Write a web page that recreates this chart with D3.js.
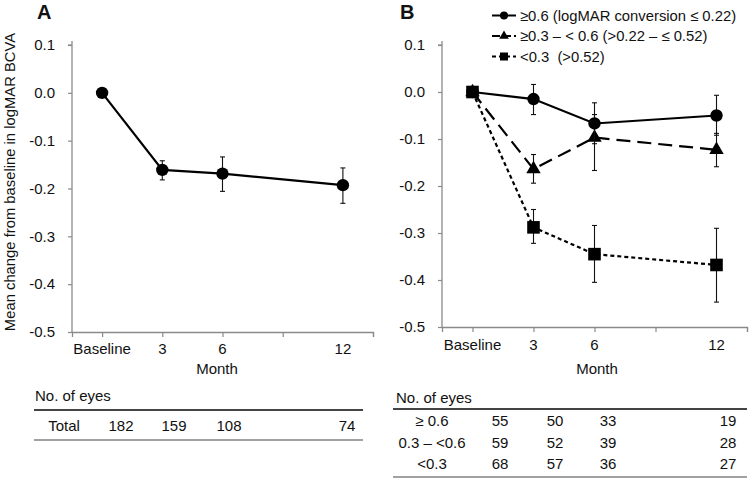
<!DOCTYPE html>
<html><head><meta charset="utf-8">
<script src="https://cdn.jsdelivr.net/npm/d3@7"></script>
<style>
body{margin:0;background:#fff;}
svg text{font-family:"Liberation Sans",Arial,sans-serif;fill:#111;white-space:pre;}
</style></head>
<body><svg id="c" width="750" height="481"></svg>
<script>
// ---- data ----
const months = [0, 3, 6, 12];
const monthLabels = ["Baseline", "3", "6", "12"];
const yTicks = [0.1, 0.0, -0.1, -0.2, -0.3, -0.4, -0.5];

// Panel A
const totalMean = [0, -0.161, -0.169, -0.193];
const totalLo   = [0, -0.182, -0.206, -0.231];
const totalHi   = [0, -0.142, -0.134, -0.157];

// Panel B
const seriesNames = ["≥0.6 (logMAR conversion ≤ 0.22)", "≥0.3 – < 0.6 (>0.22 – ≤ 0.52)", "<0.3  (>0.52)"];
const hiMean = [0, -0.015, -0.067, -0.050];
const hiLo   = [0, -0.048, -0.110, -0.092];
const hiHi   = [0,  0.016, -0.023, -0.007];
const midMean = [0, -0.164, -0.097, -0.123];
const midLo   = [0, -0.194, -0.167, -0.159];
const midHi   = [0, -0.133, -0.048, -0.088];
const lowMean = [0, -0.288, -0.345, -0.368];
const lowLo   = [0, -0.322, -0.405, -0.447];
const lowHi   = [0, -0.250, -0.284, -0.290];

// Tables
const totalEyes = [182, 159, 108, 74];
const groupLabels = ["≥ 0.6", "0.3 – <0.6", "<0.3"];
const eyesHi  = [55, 50, 33, 19];
const eyesMid = [59, 52, 39, 28];
const eyesLow = [68, 57, 36, 27];

const svg = d3.select("#c");
const AX = "#8a8a8a";

function panel(o){
  const g = svg.append("g");
  const x = d3.scaleLinear().domain([-1.5, 13.5]).range([o.x0, o.x1]);
  const y = d3.scaleLinear().domain([0.1, -0.5]).range([o.y0, o.y1]);
  // y axis
  const ya = g.append("g").attr("transform", `translate(${o.x0},0)`)
    .call(d3.axisLeft(y).tickValues(yTicks).tickFormat(d3.format(".1f")).tickSize(4).tickPadding(13));
  ya.select(".domain").remove();
  ya.selectAll(".tick line").attr("stroke", AX).attr("stroke-width", 1.2);
  ya.selectAll(".tick text").attr("font-size", 15).style("fill","#111")
    .text(d => d === 0 ? "0.0" : d3.format(".1f")(d).replace("−","-"));
  g.append("line").attr("x1", o.x0).attr("x2", o.x0).attr("y1", o.y0 - 4).attr("y2", o.y1)
    .attr("stroke", AX).attr("stroke-width", 1.3);
  g.append("line").attr("x1", o.x0 - 4).attr("x2", o.x0).attr("y1", o.y0).attr("y2", o.y0)
    .attr("stroke", AX).attr("stroke-width", 1.2);
  // x axis
  const xa = g.append("g").attr("transform", `translate(0,${o.y1})`)
    .call(d3.axisBottom(x).tickValues([0, 3, 6, 9, 13.5]).tickSize(5).tickFormat(""));
  xa.select(".domain").attr("stroke", AX).attr("stroke-width", 1.3);
  xa.selectAll(".tick line").attr("stroke", AX).attr("stroke-width", 1.2);
  g.selectAll(".mlab").data(months).join("text")
    .attr("x", d => x(d)).attr("y", o.y1 + o.labDy).attr("text-anchor", "middle")
    .attr("font-size", 15).text((d, i) => monthLabels[i]);
  g.append("text").attr("x", o.monthX).attr("y", o.monthY).attr("text-anchor", "middle")
    .attr("font-size", 15).text("Month");
  g.append("text").attr("x", o.letterX).attr("y", 19).attr("font-size", 20)
    .attr("font-weight", "bold").text(o.letter);
  return {g, x, y};
}

function series(p, mean, lo, hi, dash, marker){
  const {g, x, y} = p;
  // error bars
  months.forEach((m, i) => {
    if (lo[i] === hi[i]) return;
    g.append("line").attr("x1", x(m)).attr("x2", x(m)).attr("y1", y(hi[i])).attr("y2", y(lo[i]))
      .attr("stroke", "#111").attr("stroke-width", 1.1);
    [hi[i], lo[i]].forEach(v => g.append("line").attr("x1", x(m) - 2.5).attr("x2", x(m) + 2.5)
      .attr("y1", y(v)).attr("y2", y(v)).attr("stroke", "#111").attr("stroke-width", 1.1));
  });
  const line = d3.line().x((d, i) => x(months[i])).y(d => y(d));
  g.append("path").attr("d", line(mean)).attr("fill", "none").attr("stroke", "#000")
    .attr("stroke-width", 2.2).attr("stroke-dasharray", dash);
  drawMarkers(g, months.map((m, i) => [x(m), y(mean[i])]), marker);
}

function drawMarkers(g, pts, marker){
  pts.forEach(([px, py]) => {
    if (marker === "circle") g.append("circle").attr("cx", px).attr("cy", py).attr("r", 6.2).attr("fill", "#000");
    else if (marker === "square") g.append("rect").attr("x", px - 6.3).attr("y", py - 6.3).attr("width", 12.6).attr("height", 12.6).attr("fill", "#000");
    else g.append("path").attr("transform", `translate(${px},${py})`)
      .attr("d", d3.symbol(d3.symbolTriangle, 90)()).attr("fill", "#000");
  });
}

// Panel A
const pA = panel({x0: 72, x1: 373, y0: 45, y1: 332, labDy: 22, monthX: 217, monthY: 374, letter: "A", letterX: 37});
series(pA, totalMean, totalLo, totalHi, null, "circle");
svg.append("text").attr("transform", "translate(15,182) rotate(-90)").attr("text-anchor", "middle")
  .attr("font-size", 14.8).text("Mean change from baseline in logMAR BCVA");

// Panel B
const pB = panel({x0: 442, x1: 747, y0: 45, y1: 327, labDy: 23, monthX: 597, monthY: 374, letter: "B", letterX: 400});
series(pB, lowMean, lowLo, lowHi, "4,3", "square");
series(pB, midMean, midLo, midHi, "14,7", "triangle");
series(pB, hiMean, hiLo, hiHi, null, "circle");

// legend
const legDash = [null, "8,3", "4,3"];
const legMark = ["circle", "triangle", "square"];
seriesNames.forEach((s, i) => {
  const ly = 15.5 + i * 20.5;
  svg.append("line").attr("x1", 492).attr("x2", 516).attr("y1", ly).attr("y2", ly)
    .attr("stroke", "#000").attr("stroke-width", 2).attr("stroke-dasharray", legDash[i]);
  const lg = svg.append("g");
  if (legMark[i] === "circle") lg.append("circle").attr("cx", 504).attr("cy", ly).attr("r", 4).attr("fill", "#000");
  else if (legMark[i] === "square") lg.append("rect").attr("x", 500).attr("y", ly - 4).attr("width", 8).attr("height", 8).attr("fill", "#000");
  else lg.append("path").attr("transform", `translate(504,${ly})`).attr("d", d3.symbol(d3.symbolTriangle, 40)()).attr("fill", "#000");
  svg.append("text").attr("x", 520).attr("y", ly + 5).attr("font-size", 14.8).text(s);
});

// Table A
svg.append("text").attr("x", 35).attr("y", 401).attr("font-size", 15).text("No. of eyes");
svg.append("line").attr("x1", 34).attr("x2", 363).attr("y1", 410).attr("y2", 410).attr("stroke", "#444").attr("stroke-width", 2.2);
svg.append("text").attr("x", 64).attr("y", 431).attr("font-size", 15).attr("text-anchor", "middle").text("Total");
const colA = [121, 174, 229, 347];
svg.selectAll(".ta").data(totalEyes).join("text").attr("x", (d, i) => colA[i]).attr("y", 431)
  .attr("font-size", 15).attr("text-anchor", "middle").text(d => d);
svg.append("line").attr("x1", 34).attr("x2", 363).attr("y1", 440).attr("y2", 440).attr("stroke", "#444").attr("stroke-width", 1.2);

// Table B
svg.append("text").attr("x", 396).attr("y", 403).attr("font-size", 15).text("No. of eyes");
svg.append("line").attr("x1", 393).attr("x2", 747).attr("y1", 409).attr("y2", 409).attr("stroke", "#444").attr("stroke-width", 2.2);
const colB = [500, 555, 608, 728];
[eyesHi, eyesMid, eyesLow].forEach((row, r) => {
  const ry = 426 + r * 21.5;
  svg.append("text").attr("x", 432).attr("y", ry).attr("font-size", 15).attr("text-anchor", "middle").text(groupLabels[r]);
  svg.selectAll(".tb" + r).data(row).join("text").attr("x", (d, i) => colB[i]).attr("y", ry)
    .attr("font-size", 15).attr("text-anchor", "middle").text(d => d);
});
svg.append("line").attr("x1", 393).attr("x2", 747).attr("y1", 477).attr("y2", 477).attr("stroke", "#444").attr("stroke-width", 1.2);
</script></body></html>
